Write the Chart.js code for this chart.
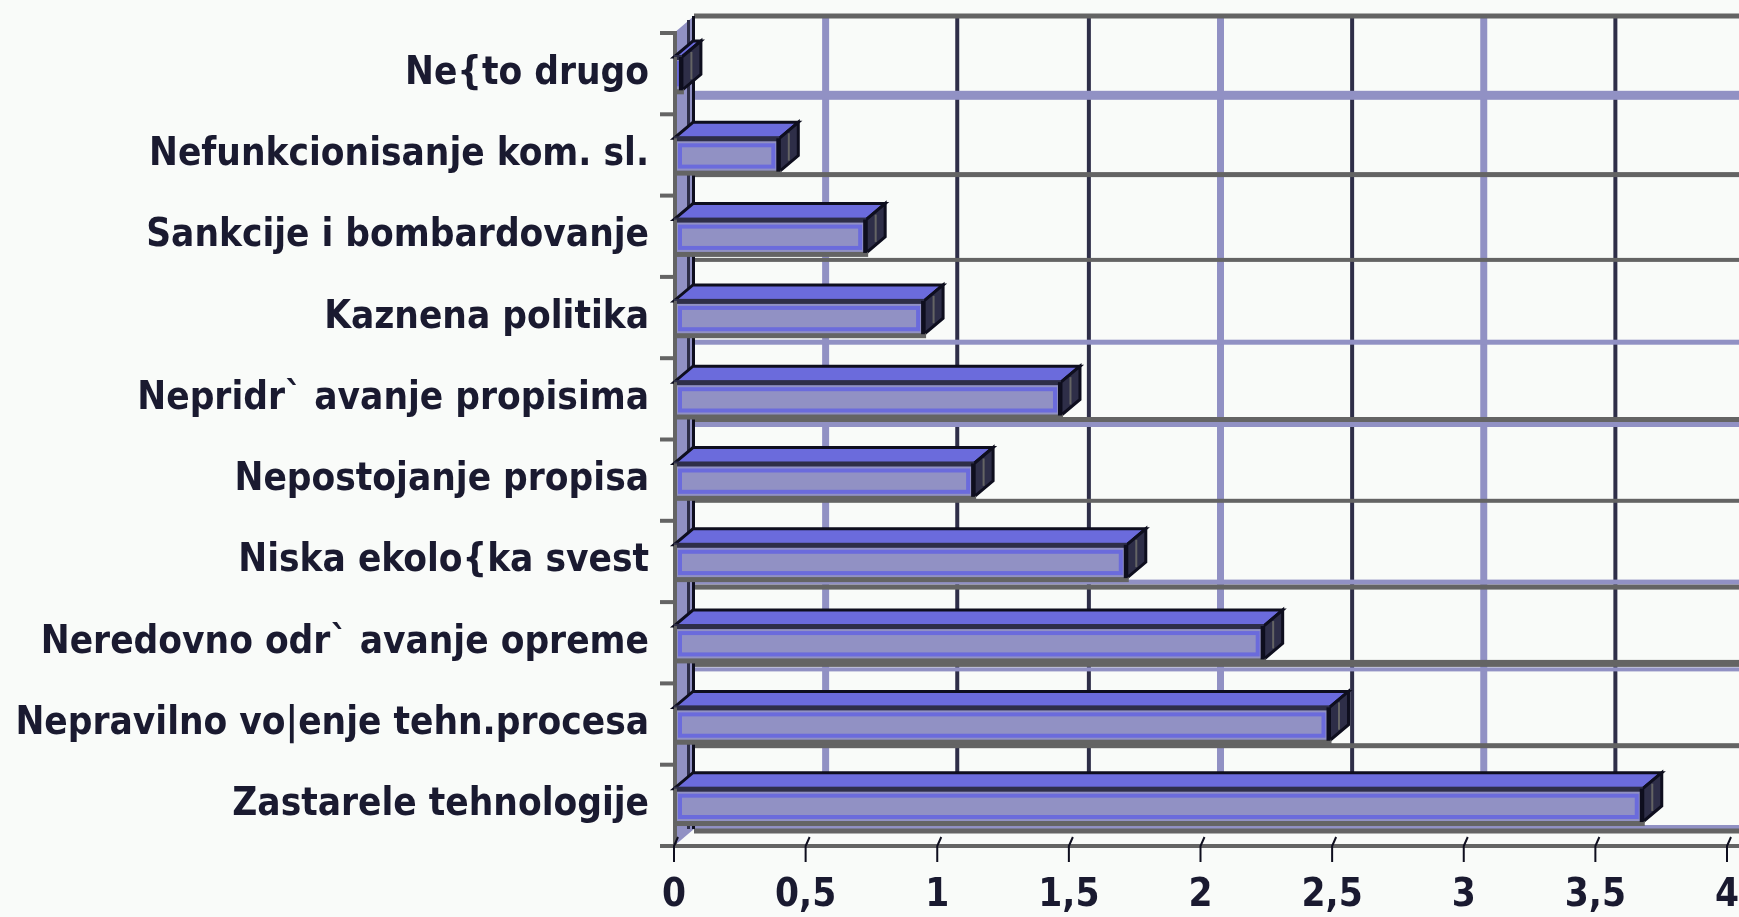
<!DOCTYPE html>
<html>
<head>
<meta charset="utf-8">
<script src="https://cdn.jsdelivr.net/npm/chart.js@4.4.1/dist/chart.umd.min.js"></script>
<style>
  html, body { margin: 0; padding: 0; background: #f9fbf9; }
  canvas { display: block; }
</style>
</head>
<body>
<canvas id="c" width="1739" height="917"></canvas>
<script>
// Categories, top to bottom
const categories = [
  'Ne{to drugo',
  'Nefunkcionisanje kom. sl.',
  'Sankcije i bombardovanje',
  'Kaznena politika',
  'Nepridr` avanje propisima',
  'Nepostojanje propisa',
  'Niska ekolo{ka svest',
  'Neredovno odr` avanje opreme',
  'Nepravilno vo|enje tehn.procesa',
  'Zastarele tehnologije'
];
const values = [0.03, 0.40, 0.73, 0.95, 1.47, 1.14, 1.72, 2.24, 2.49, 3.68];
const tickLabels = ['0', '0,5', '1', '1,5', '2', '2,5', '3', '3,5', '4'];

// Palette
const C = {
  bg: '#f9fbf9', blue: '#6b6bdc', lilac: '#9191c4', navy: '#2e2e48',
  ink: '#0e0e1e', grey: '#646464', text: '#1a1a30'
};

// 3D depth of the walls and of the bars
const WALL_DX = 20, WALL_DY = 17;
const BAR_DX = 19, BAR_DY = 16;

// back-wall value gridlines (by tick index): [colour, width]
const vGridStyle = [null, ['lilac', 7], ['navy', 4], ['navy', 4], ['lilac', 7], ['navy', 4], ['lilac', 7], ['navy', 4], ['navy', 4]];
// back-wall category gridlines (by boundary index): list of [colour, width, shift]
const hGridStyle = [
  [['grey', 5, 0]],
  [['lilac', 9, -2]],
  [['grey', 5, -4]],
  [['grey', 4, 0]],
  [['lilac', 5, 1]],
  [['grey', 5, -3], ['lilac', 5, 2]],
  [['grey', 4, -3]],
  [['lilac', 5, -3], ['grey', 5, 2]],
  [['grey', 7, -3], ['lilac', 4, 3]],
  [['grey', 5, -2]],
  [['lilac', 4, -2], ['grey', 5, 2]]
];

const LABEL_FONT = { family: "'DejaVu Sans Condensed', 'DejaVu Sans', sans-serif", size: 38.4, weight: 'bold', lineHeight: 1 };

function poly(ctx, pts, fill, stroke, lw) {
  ctx.beginPath();
  ctx.moveTo(pts[0][0], pts[0][1]);
  for (let i = 1; i < pts.length; i++) ctx.lineTo(pts[i][0], pts[i][1]);
  ctx.closePath();
  if (fill) { ctx.fillStyle = fill; ctx.fill(); }
  if (stroke) { ctx.strokeStyle = stroke; ctx.lineWidth = lw; ctx.lineJoin = 'miter'; ctx.stroke(); }
}

// Walls, floor, gridlines and axis marks
const walls = {
  id: 'walls',
  beforeDatasetsDraw(chart) {
    const { ctx, chartArea: a, scales: { x, y } } = chart;
    const W = chart.width;
    const band = (a.bottom - a.top) / categories.length;
    const bx0 = a.left + WALL_DX, wallTop = a.top - WALL_DY, wallFloor = a.bottom - WALL_DY;
    const boundary = k => (k < categories.length ? y.getPixelForValue(k) - band / 2 : y.getPixelForValue(k - 1) + band / 2);
    ctx.save();

    // value gridlines on the back wall
    x.ticks.forEach((t, i) => {
      const st = vGridStyle[i];
      if (!st) return;
      const px = x.getPixelForValue(t.value) + WALL_DX;
      ctx.fillStyle = C[st[0]];
      ctx.fillRect(px - st[1] / 2, wallTop, st[1], wallFloor - wallTop);
    });

    // category gridlines on the back wall
    for (let k = 0; k <= categories.length; k++) {
      const py = boundary(k) - WALL_DY;
      hGridStyle[k].forEach(([c, w, o]) => {
        ctx.fillStyle = C[c];
        ctx.fillRect(bx0, py + o - w / 2, W - bx0, w);
      });
    }

    // left side wall
    poly(ctx, [[a.left, a.top], [bx0, wallTop], [bx0, wallFloor], [a.left, a.bottom]], C.lilac, null, 0);
    ctx.fillStyle = C.grey;
    ctx.fillRect(a.left - 1, a.top - 2, 4, a.bottom - a.top + 2);
    ctx.fillStyle = C.navy;
    ctx.fillRect(bx0 - 7, wallTop + 4, 3, wallFloor - wallTop - 4);
    ctx.fillStyle = C.ink;
    ctx.fillRect(bx0 - 2, wallTop, 3, wallFloor - wallTop);

    // category tick marks on the wall front edge
    ctx.fillStyle = C.grey;
    for (let k = 0; k <= categories.length; k++) {
      ctx.fillRect(a.left - 14, boundary(k) - 2, 14, 4);
    }

    // front value axis line
    ctx.fillStyle = C.grey;
    ctx.fillRect(a.left - 14, a.bottom - 2, W - a.left + 14, 4);

    // value tick marks
    ctx.strokeStyle = C.ink;
    ctx.lineWidth = 2;
    x.ticks.forEach(t => {
      const px = x.getPixelForValue(t.value);
      ctx.beginPath();
      ctx.moveTo(px + 4, a.bottom - 9);
      ctx.lineTo(px, a.bottom);
      ctx.lineTo(px, a.bottom + 16);
      ctx.stroke();
    });
    ctx.restore();
  },

  // top and side faces of each bar, and trim on the front face
  afterDatasetsDraw(chart) {
    const { ctx } = chart;
    const meta = chart.getDatasetMeta(0);
    ctx.save();
    meta.data.forEach(bar => {
      const { x: xe, y: yc, base, height } = bar.getProps(['x', 'y', 'base', 'height'], true);
      const t = yc - height / 2, b = yc + height / 2;
      const w = xe - base;
      // top face
      poly(ctx, [[base, t], [xe, t], [xe + BAR_DX, t - BAR_DY], [base + BAR_DX, t - BAR_DY]], C.blue, C.ink, 3);
      // right side face
      poly(ctx, [[xe, t], [xe + BAR_DX, t - BAR_DY], [xe + BAR_DX, b - BAR_DY], [xe, b]], C.navy, C.ink, 3);
      ctx.strokeStyle = C.grey;
      ctx.lineWidth = 2;
      ctx.beginPath();
      ctx.moveTo(xe + BAR_DX / 2, t - BAR_DY / 2 + 3);
      ctx.lineTo(xe + BAR_DX / 2, b - BAR_DY / 2 - 3);
      ctx.stroke();
      // front face trim
      if (w > 14) {
        ctx.strokeStyle = C.blue;
        ctx.lineWidth = 4;
        ctx.strokeRect(base + 6, t + 7, w - 12, height - 12);
      } else {
        ctx.fillStyle = C.blue;
        ctx.fillRect(base + 2, t + 4, Math.max(w - 2, 2), height - 8);
      }
      ctx.fillStyle = C.navy;
      ctx.fillRect(base, t - 2, w, 5);
      ctx.fillStyle = C.grey;
      ctx.fillRect(base, b - 1, w + 2, 5);
      ctx.fillRect(base, t, 3, height);
      ctx.fillStyle = C.ink;
      ctx.fillRect(xe - 3, t, 4, height);
    });
    ctx.restore();
  }
};

Chart.defaults.color = C.text;

new Chart(document.getElementById('c'), {
  type: 'bar',
  data: {
    labels: categories,
    datasets: [{
      data: values,
      backgroundColor: C.lilac,
      borderWidth: 0,
      barPercentage: 0.41,
      categoryPercentage: 1
    }]
  },
  options: {
    indexAxis: 'y',
    responsive: false,
    animation: false,
    events: [],
    layout: { padding: { top: 33, right: 12, bottom: 0, left: 0 } },
    plugins: { legend: { display: false }, tooltip: { enabled: false } },
    scales: {
      x: {
        type: 'linear',
        min: 0,
        max: 4,
        grid: { display: false, drawTicks: false },
        border: { display: false },
        ticks: {
          stepSize: 0.5,
          padding: 31,
          maxRotation: 0,
          autoSkip: false,
          font: LABEL_FONT,
          color: C.text,
          callback: (v, i) => tickLabels[i]
        },
        afterFit: s => {
          s.height = 71;
          s.paddingLeft = 0; s.paddingRight = 0; s.paddingTop = 0; s.paddingBottom = 0;
        }
      },
      y: {
        grid: { display: false, drawTicks: false },
        border: { display: false },
        ticks: {
          padding: 25,
          autoSkip: false,
          font: LABEL_FONT,
          color: C.text
        },
        afterFit: s => {
          s.width = 674;
          s.paddingLeft = 0; s.paddingRight = 0; s.paddingTop = 0; s.paddingBottom = 0;
        }
      }
    }
  },
  plugins: [walls]
});
</script>
</body>
</html>
